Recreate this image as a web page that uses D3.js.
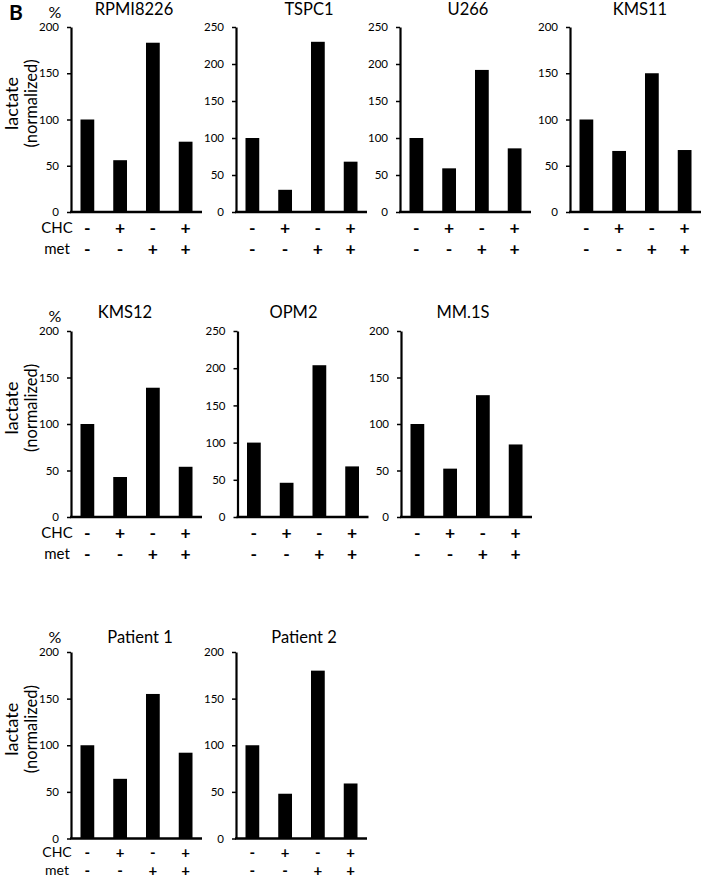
<!DOCTYPE html>
<html>
<head>
<meta charset="utf-8">
<script src="https://cdn.jsdelivr.net/npm/d3@7"></script>
<style>
  html, body { margin: 0; padding: 0; background: #fff; }
  svg { display: block; }
  text { font-family: Lato, "Open Sans", "Liberation Sans", sans-serif; fill: #000; }
</style>
</head>
<body>
<svg id="chart" width="702" height="880"></svg>
<script>
// ---------- data ----------
const panelNames = ["RPMI8226", "TSPC1", "U266", "KMS11", "KMS12", "OPM2", "MM.1S", "Patient 1", "Patient 2"];
const conditions = ["c1", "c2", "c3", "c4"];
const chcSigns = ["-", "+", "-", "+"];
const metSigns = ["-", "-", "+", "+"];
const valuesRPMI8226 = [100, 56, 183, 76];
const valuesTSPC1   = [100, 30, 230, 68];
const valuesU266    = [100, 59, 192, 86];
const valuesKMS11   = [100, 66, 150, 67];
const valuesKMS12   = [100, 43, 139, 54];
const valuesOPM2    = [100, 46, 204, 68];
const valuesMM1S    = [100, 52, 131, 78];
const valuesPatient1 = [100, 64, 155, 92];
const valuesPatient2 = [100, 48, 180, 59];
const panelValues = [valuesRPMI8226, valuesTSPC1, valuesU266, valuesKMS11, valuesKMS12,
                     valuesOPM2, valuesMM1S, valuesPatient1, valuesPatient2];
const yMaxes = [200, 250, 250, 200, 200, 250, 200, 200, 200];
const yTicks200 = [0, 50, 100, 150, 200];
const yTicks250 = [0, 50, 100, 150, 200, 250];
const yLabelLines = ["lactate", "(normalized)"];
const unitLabel = "%";
const rowLabels = ["CHC", "met"];
const figLetter = "B";

// ---------- layout ----------
const rows = [
  { top: 27,  bottom: 212,   titleY: 15,  sign1: 22, sign2: 43, signFont: 17.5, labFont: 15, axes: [71, 236, 400, 570] },
  { top: 331, bottom: 517,   titleY: 318, sign1: 22, sign2: 43, signFont: 17.5, labFont: 15, axes: [71, 237.5, 401] },
  { top: 652, bottom: 838.5, titleY: 643, sign1: 19.5, sign2: 37.5, signFont: 15, labFont: 14, axes: [71, 236] }
];
const titleDx = [63, 73, 68, 70, 54, 56, 62, 69, 68];
const plotW = 131;

const svg = d3.select("#chart");

svg.append("text").attr("x", 9).attr("y", 20)
  .style("font-size", "21px").style("font-weight", "bold").text(figLetter);

let idx = 0;
rows.forEach((row, ri) => {
  row.axes.forEach((ax, ci) => {
    const i = idx++;
    const vals = panelValues[i];
    const yMax = yMaxes[i];
    const g = svg.append("g").attr("transform", `translate(${ax},0)`);

    const x = d3.scaleBand().domain(conditions).range([0, plotW])
      .paddingInner(0.58).paddingOuter(0.29);
    const y = d3.scaleLinear().domain([0, yMax]).range([row.bottom, row.top]);

    // bars
    g.selectAll("rect.bar").data(vals).join("rect")
      .attr("class", "bar")
      .attr("x", (d, k) => x(conditions[k]))
      .attr("width", x.bandwidth())
      .attr("y", d => y(d))
      .attr("height", d => y(0) - y(d))
      .attr("fill", "#000");

    // y axis
    const yAxis = d3.axisLeft(y)
      .tickValues(yMax === 250 ? yTicks250 : yTicks200)
      .tickSize(4).tickSizeOuter(0).tickPadding(8);
    const ya = g.append("g").call(yAxis);
    ya.select(".domain").attr("stroke", "#000").attr("stroke-width", 2.2);
    ya.selectAll(".tick line").attr("stroke", "#000").attr("stroke-width", 1.5);
    ya.selectAll(".tick text")
      .style("font-family", "Lato, 'Open Sans', sans-serif")
      .style("font-size", "11.5px").attr("fill", "#000");

    // x baseline
    g.append("line")
      .attr("x1", -1).attr("x2", plotW)
      .attr("y1", y(0)).attr("y2", y(0))
      .attr("stroke", "#000").attr("stroke-width", 2.5);

    // title
    g.append("text")
      .attr("x", titleDx[i]).attr("y", row.titleY)
      .attr("text-anchor", "middle")
      .style("font-size", "16.5px")
      .text(panelNames[i]);

    // condition signs
    [chcSigns, metSigns].forEach((signs, si) => {
      g.selectAll(null).data(signs).join("text")
        .attr("x", (d, k) => x(conditions[k]) + x.bandwidth() / 2)
        .attr("y", y(0) + (si === 0 ? row.sign1 : row.sign2))
        .attr("text-anchor", "middle")
        .style("font-size", row.signFont + "px")
        .style("font-weight", "bold")
        .text(d => d);
    });

    // first-column labels
    if (ci === 0) {
      g.append("text")
        .attr("x", -16).attr("y", row.top - 9)
        .attr("text-anchor", "middle")
        .style("font-size", "16px")
        .text(unitLabel);
      rowLabels.forEach((lab, si) => {
        g.append("text")
          .attr("x", -14).attr("y", y(0) + (si === 0 ? row.sign1 : row.sign2) - 1)
          .attr("text-anchor", "middle")
          .style("font-size", row.labFont + "px")
          .text(lab);
      });
      const cy = (row.top + row.bottom) / 2 - 16;
      yLabelLines.forEach((lab, li) => {
        g.append("text")
          .attr("transform", `translate(${li === 0 ? -53 : -34},${cy}) rotate(-90)`)
          .attr("text-anchor", "middle")
          .style("font-size", li === 0 ? "18px" : "16.5px")
          .text(lab);
      });
    }
  });
});
</script>
</body>
</html>
